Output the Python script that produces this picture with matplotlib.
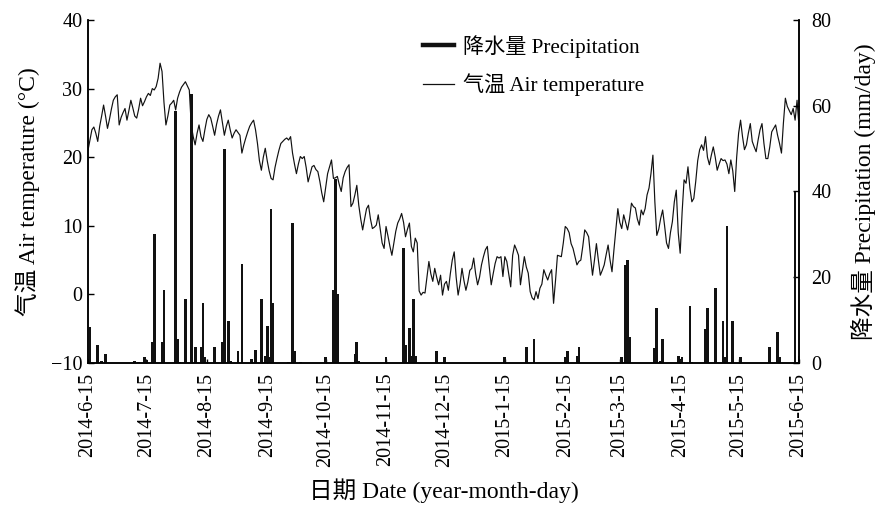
import numpy as np
import pandas as pd
import matplotlib
matplotlib.use('Agg')
import matplotlib.pyplot as plt
from matplotlib.lines import Line2D

plt.rcParams['font.family'] = ['Liberation Serif', 'Noto Sans CJK SC']
plt.rcParams['font.size'] = 14.5
plt.rcParams['axes.unicode_minus'] = True

# daily air temperature (°C), one value per day from 2014-6-15 to 2015-6-15
temp = [
    21.0, 22.5, 24.0, 24.4, 23.5, 22.3, 24.5, 26.0, 27.6, 26.0,
    24.2, 25.5, 27.0, 28.3, 28.8, 29.1, 24.7, 25.8, 26.5, 27.1,
    25.4, 26.8, 28.3, 27.2, 26.0, 25.7, 27.0, 28.6, 27.5, 28.1,
    28.8, 29.3, 29.0, 30.0, 29.8, 30.3, 31.5, 33.7, 32.5, 28.0,
    24.7, 26.0, 27.6, 27.9, 28.3, 26.9, 28.6, 29.5, 30.2, 30.6,
    31.0, 30.4, 29.8, 24.7, 23.0, 21.8, 23.5, 24.7, 23.0, 22.3,
    24.0, 25.5, 26.2, 25.7, 24.5, 23.2, 24.8, 26.0, 26.9, 25.0,
    23.2, 24.5, 25.4, 24.0, 22.8, 23.5, 24.0, 23.6, 23.2, 20.6,
    21.8, 22.8, 23.7, 24.5, 25.0, 25.4, 24.0, 22.0, 19.5, 18.1,
    20.0, 21.3, 19.5, 18.0, 16.9, 16.7, 18.5, 19.8, 21.0, 22.0,
    22.3, 22.6, 22.8, 22.5, 23.0, 20.6, 19.0, 17.6, 19.0, 20.1,
    19.8, 20.1, 18.5, 16.4, 17.5, 18.6, 18.8, 18.2, 17.9, 16.5,
    14.8, 13.5, 15.5, 17.6, 18.6, 19.6, 16.9, 17.0, 17.2, 16.0,
    15.0, 17.0, 17.9, 18.5, 18.9, 12.8, 13.3, 14.5, 15.9, 13.0,
    11.0, 9.4, 11.0, 12.5, 13.0, 11.0, 9.6, 9.8, 10.1, 11.6,
    9.5, 7.5, 6.7, 9.9, 8.5, 7.0, 5.7, 7.5, 9.2, 10.4,
    11.0, 11.8, 10.5, 8.4, 9.5, 10.4, 7.0, 6.2, 8.2, 7.5,
    0.5, -0.1, 0.3, 0.2, 2.5, 4.8, 3.0, 1.9, 3.8, 2.5,
    1.4, 2.8, -0.1, 1.5, 1.9, 0.6, 3.0, 5.0, 6.2, 2.5,
    -0.1, 1.5, 3.8, 2.0, 0.6, 1.8, 3.5, 3.8, 5.3, 3.0,
    1.4, 2.5, 4.3, 5.5, 6.5, 7.0, 4.0, 1.4, 3.0, 4.5,
    5.5, 5.3, 5.5, 2.6, 5.5, 4.8, 3.0, 1.1, 5.7, 7.2,
    6.5, 5.7, 1.4, 3.5, 5.5, 4.0, 3.1, 0.4, -0.5, -0.8,
    0.4, -0.6, 0.9, 1.5, 3.6, 2.8, 2.1, 3.0, 3.6, -1.3,
    2.0, 5.7, 5.6, 5.5, 7.5, 9.9, 9.6, 9.0, 7.4, 6.7,
    5.5, 4.3, 4.8, 5.0, 7.0, 9.4, 9.0, 8.4, 5.5, 2.8,
    5.0, 7.4, 5.0, 2.8, 3.5, 4.3, 5.8, 7.2, 5.0, 3.3,
    6.5, 9.5, 12.5, 10.5, 9.6, 11.6, 10.5, 9.4, 11.0, 13.3,
    12.8, 12.6, 11.0, 10.1, 12.3, 11.6, 12.5, 14.5, 15.5, 17.6,
    20.3, 13.5, 8.6, 9.5, 11.1, 12.3, 10.0, 7.5, 6.7, 9.0,
    10.6, 13.5, 15.2, 9.0, 6.0, 12.0, 16.7, 16.2, 18.6, 15.5,
    13.5, 14.0, 16.5, 19.5, 21.1, 21.8, 21.0, 23.0, 20.0, 18.9,
    20.3, 21.5, 20.0, 18.1, 19.0, 19.8, 19.5, 19.6, 19.0, 17.6,
    19.6, 18.0, 15.0, 20.0, 23.5, 25.4, 23.0, 21.1, 21.8, 23.5,
    24.9, 22.3, 21.5, 20.8, 22.5, 24.0, 24.9, 22.0, 19.8, 19.8,
    21.5, 23.7, 24.2, 24.7, 23.2, 22.0, 20.6, 25.0, 28.6, 27.4,
    26.8, 26.2, 27.1, 25.4, 28.3, 24.5,
]

# rainy days (days after 2014-6-15) and precipitation (mm/day)
rain_day = [1, 5, 7, 9, 24, 26, 29, 30, 33, 34, 38, 39, 45, 46, 47, 50, 53, 55,
            58, 59, 60, 65, 69, 70, 72, 73, 77, 79, 84, 86, 89, 91, 92, 93, 94,
            95, 103, 105, 106, 109, 122, 126, 127, 128, 137, 138, 139, 153, 162,
            163, 165, 166, 167, 168, 179, 183, 214, 225, 229, 245, 246, 251, 252,
            274, 276, 277, 278, 291, 292, 294, 295, 303, 304, 305, 309, 310, 317,
            318, 322, 326, 327, 328, 331, 335, 350, 354, 355, 363, 365]
rain_mm = [8.4, 4.2, 0.5, 2.1, 0.5, 0.3, 1.5, 0.8, 5.0, 30.2, 5.0, 17.0, 58.8, 5.7,
           0.3, 14.9, 62.7, 3.8, 3.8, 14.1, 1.5, 3.8, 5.0, 49.8, 9.8, 0.5, 2.8,
           23.2, 0.9, 3.0, 14.9, 1.7, 8.7, 1.4, 36.0, 13.9, 0.3, 32.7, 2.8, 0.3,
           1.3, 17.0, 42.9, 16.2, 2.2, 5.0, 0.5, 1.3, 26.8, 4.2, 8.1, 1.7, 14.9,
           1.7, 2.8, 1.3, 1.3, 3.8, 5.7, 1.3, 2.8, 1.7, 3.8, 1.3, 22.9, 24.0, 6.1,
           3.4, 12.9, 0.5, 5.6, 1.7, 1.0, 1.3, 13.3, 0.3, 7.9, 12.9, 17.5, 9.8,
           1.3, 31.9, 9.8, 1.3, 3.8, 7.3, 1.3, 39.8, 1.6]

tick_dates = ['2014-06-15', '2014-07-15', '2014-08-15', '2014-09-15', '2014-10-15',
              '2014-11-15', '2014-12-15', '2015-01-15', '2015-02-15', '2015-03-15',
              '2015-04-15', '2015-05-15', '2015-06-15']
tick_labels = ['2014-6-15', '2014-7-15', '2014-8-15', '2014-9-15', '2014-10-15',
               '2014-11-15', '2014-12-15', '2015-1-15', '2015-2-15', '2015-3-15',
               '2015-4-15', '2015-5-15', '2015-6-15']

start = pd.Timestamp('2014-06-15')
dates = pd.date_range(start, periods=len(temp), freq='D')
rain_dates = start + pd.to_timedelta(rain_day, unit='D')

fig = plt.figure(figsize=(8.75, 5.07), dpi=100)
ax = fig.add_axes([88 / 875, 1 - 363 / 507, (799 - 88) / 875, (363 - 20) / 507])
ax2 = ax.twinx()

ax.plot(dates, temp, color='#111111', lw=0.85, zorder=3)
ax2.bar(rain_dates, rain_mm, width=1.4, color='#111111', linewidth=0, zorder=2)

ax.set_xlim(dates[0], dates[-1])
ax.set_ylim(-10, 40)
ax.set_yticks([-10, 0, 10, 20, 30, 40])
ax2.set_ylim(0, 80)
ax2.set_yticks([0, 20, 40, 60, 80])

ax.set_xticks(pd.to_datetime(tick_dates))
ax.set_xticklabels(tick_labels, rotation=90)

for a in (ax, ax2):
    a.spines['top'].set_visible(False)
    for s in ('left', 'right', 'bottom'):
        a.spines[s].set_linewidth(1.1)
ax.tick_params(axis='y', direction='in', length=4, width=1, pad=4)
ax.tick_params(axis='x', direction='in', length=3, width=1, pad=7)
ax2.tick_params(axis='y', direction='in', length=4, width=1, pad=9)

ax.set_ylabel('气温 Air temperature (°C)', fontsize=17, labelpad=8)
ax2.set_ylabel('降水量 Precipitation (mm/day)', fontsize=17, rotation=90, labelpad=14)
ax.set_xlabel('日期 Date (year-month-day)', fontsize=17, labelpad=8)

handles = [Line2D([], [], color='#111111', lw=3.2),
           Line2D([], [], color='#111111', lw=0.9)]
labels = ['降水量 Precipitation', '气温 Air temperature']
fig.legend(handles, labels, loc='upper left', bbox_to_anchor=(423 / 875, 1 - 35 / 507),
           frameon=False, borderpad=0, borderaxespad=0, handlelength=1.45,
           handletextpad=0.45, labelspacing=0.75, fontsize=15.2)

fig.savefig('out.png', dpi=100)
